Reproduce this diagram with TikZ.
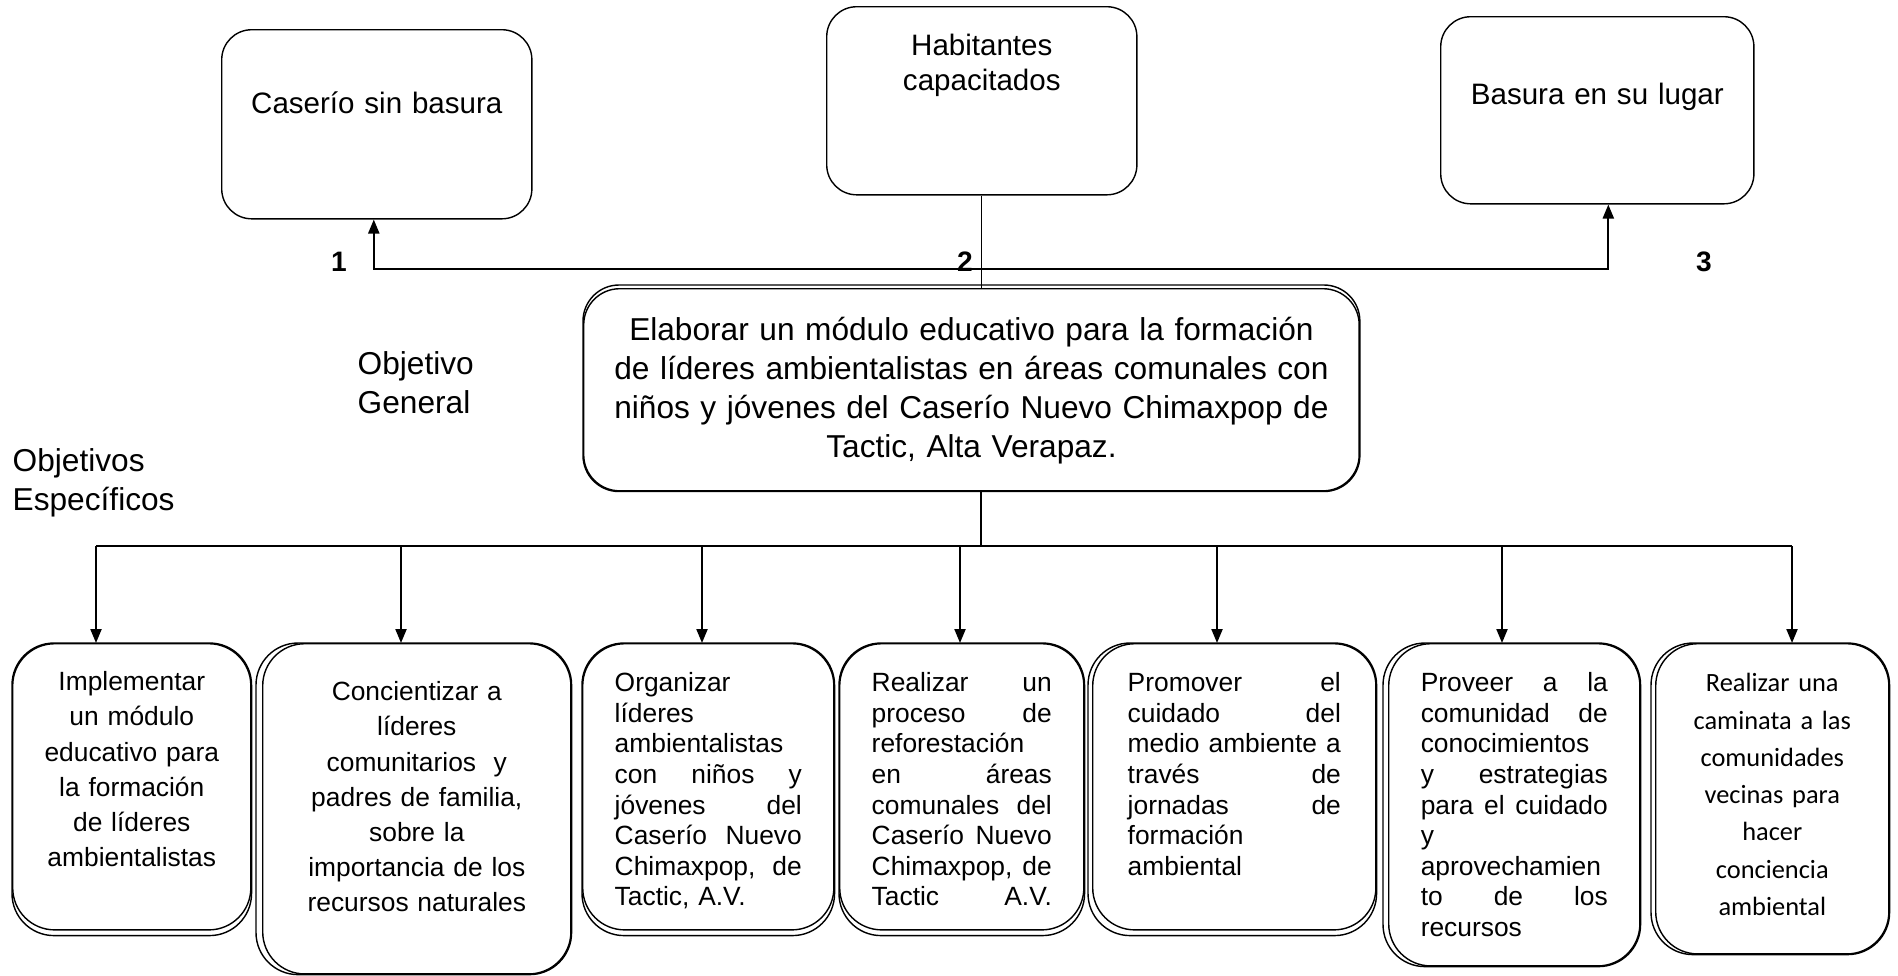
\documentclass[tikz,border=0pt]{standalone}
\usepackage{fontspec}
\setmainfont{Liberation Sans}
\newfontfamily\calibrifont{Carlito}
\usepackage{tikz}
\usetikzlibrary{shapes,arrows,positioning,calc,arrows.meta}

\begin{document}
\begin{tikzpicture}[x=0.01cm, y=-0.01cm,
    tbox/.style={draw, line width=0.4pt, rounded corners=0.3cm, inner sep=0pt, anchor=north west, align=center, font=\fontsize{8.4}{9.96}\selectfont},
    obox/.style={draw, line width=0.4pt, rounded corners=0.42cm, inner sep=0pt, anchor=north west, font=\fontsize{7.5}{8.7}\selectfont},
    conn/.style={line width=0.6pt},
    tip/.style={-{Triangle[length=0.14cm,width=0.11cm]}},
    num/.style={font=\bfseries\fontsize{8}{9.6}\selectfont, anchor=base, inner sep=0pt},
    lbl/.style={font=\fontsize{9}{11.1}\selectfont, anchor=base west, inner sep=0pt, align=left, text width=2cm}]
    \useasboundingbox (0,0) rectangle (1898,975);

    \node [tbox, minimum width=3.1cm, text width=3cm, text height=0.84cm, text depth=1.05cm] (cas) at (221,29) {Caserío sin basura};
    \node [tbox, minimum width=3.1cm, text width=3cm, text height=0.49cm, text depth=1.39cm] (hab) at (826,6) {Habitantes\\ capacitados};
    \node [tbox, minimum width=3.13cm, text width=3cm, text height=0.88cm, text depth=0.99cm] (bas) at (1440,16) {Basura en su lugar};

    \node [num] (n1) at (339,271) {1};
    \node [num] (n2) at (965,271) {2};
    \node [num] (n3) at (1704,271) {3};

    \node [tbox, rounded corners=0.36cm, minimum width=7.75cm, text width=7.2cm, text height=0.52cm, text depth=1.5cm, font=\fontsize{9}{11.1}\selectfont] (gen) at (583,288) {Elaborar un módulo educativo para la formación\\ de líderes ambientalistas en áreas comunales con\\ niños y jóvenes del Caserío Nuevo Chimaxpop de\\ Tactic, Alta Verapaz.};
    \draw [line width=0.4pt, rounded corners=0.36cm] ([yshift=0.03cm]gen.north west) rectangle (gen.south east);

    \node [lbl] (og) at (357,374) {Objetivo\\ General};
    \node [lbl] (oe) at (12,471) {Objetivos\\ Específicos};

    \node [obox, minimum width=2.38cm, text width=2.1cm, align=center, text height=0.47cm, text depth=2.39cm, font=\fontsize{7.5}{10}\selectfont] (o1) at (12,643) {Implementar\\ un módulo\\ educativo para\\ la formación\\ de líderes\\ ambientalistas};
    \node [obox, minimum width=3.08cm, text width=2.8cm, align=center, text height=0.57cm, text depth=2.73cm, font=\fontsize{7.5}{10}\selectfont] (o2) at (262,643) {Concientizar a\\ líderes\\ comunitarios~ y\\ padres de familia,\\ sobre la\\ importancia de los\\ recursos naturales};
    \node [obox, minimum width=2.51cm, text width=1.87cm, align=left, text height=0.48cm, text depth=2.38cm] (o3) at (582,643) {Organizar\\ líderes\\ ambientalistas\\ con\hfill niños\hfill y\\ jóvenes\hfill del\\ Caserío\hfill Nuevo\\ Chimaxpop,\hfill de\\ Tactic, A.V.};
    \node [obox, minimum width=2.44cm, text width=1.8cm, align=left, text height=0.48cm, text depth=2.38cm] (o4) at (839,643) {Realizar\hfill un\\ proceso\hfill de\\ reforestación\\ en\hfill áreas\\ comunales\hfill del\\ Caserío\hfill Nuevo\\ Chimaxpop,\hfill de\\ Tactic\hfill A.V.};
    \node [obox, minimum width=2.83cm, text width=2.13cm, align=left, text height=0.48cm, text depth=2.38cm] (o5) at (1092,643) {Promover\hfill el\\ cuidado\hfill del\\ medio\hfill ambiente\hfill a\\ través\hfill de\\ jornadas\hfill de\\ formación\\ ambiental};
    \node [obox, minimum width=2.51cm, text width=1.87cm, align=left, text height=0.48cm, text depth=2.74cm] (o6) at (1388,643) {Proveer\hfill a\hfill la\\ comunidad\hfill de\\ conocimientos\\ y\hfill estrategias\\ para\hfill el\hfill cuidado\\ y\\ aprovechamien\\ to\hfill de\hfill los\\ recursos};
    \node [obox, minimum width=2.33cm, text width=2.1cm, align=center, text height=0.48cm, text depth=2.62cm, font=\calibrifont\fontsize{7.5}{10.6}\selectfont] (o7) at (1655,643) {Realizar una\\ caminata a las\\ comunidades\\ vecinas para\\ hacer\\ conciencia\\ ambiental};

    \draw [line width=0.4pt, rounded corners=0.42cm] (o1.north west) rectangle ([yshift=-0.05cm]o1.south east);
    \draw [line width=0.4pt, rounded corners=0.42cm] ([xshift=-0.06cm]o2.north west) rectangle (o2.south east);
    \draw [line width=0.4pt, rounded corners=0.42cm] (o3.north west) rectangle ([yshift=-0.05cm]o3.south east);
    \draw [line width=0.4pt, rounded corners=0.42cm] (o4.north west) rectangle ([yshift=-0.05cm]o4.south east);
    \draw [line width=0.4pt, rounded corners=0.42cm] ([xshift=-0.04cm]o5.north west) rectangle ([yshift=-0.05cm]o5.south east);
    \draw [line width=0.4pt, rounded corners=0.42cm] ([xshift=-0.05cm]o6.north west) rectangle (o6.south east);
    \draw [line width=0.4pt, rounded corners=0.42cm] ([xshift=-0.04cm]o7.north west) rectangle (o7.south east);

    \coordinate (topbar) at (981,269);
    \coordinate (spine) at (981,546);
    \draw [line width=0.3pt] (hab.south) -- (hab.south |- gen.north);
    \draw [conn, tip] (topbar) -| ([xshift=-0.03cm]cas.south);
    \draw [conn, tip] (topbar) -| ([xshift=0.11cm]bas.south);
    \draw [line width=0.3pt] (gen.south -| spine) -- (spine);
    \draw [conn] (spine -| 96,0) -- (spine -| 1792,0);
    \foreach \n/\x in {o1/96, o2/401, o3/702, o4/960, o5/1217, o6/1502, o7/1792}
        \draw [conn, tip] (spine -| \x,0) -- (\n.north -| \x,0);
\end{tikzpicture}
\end{document}
